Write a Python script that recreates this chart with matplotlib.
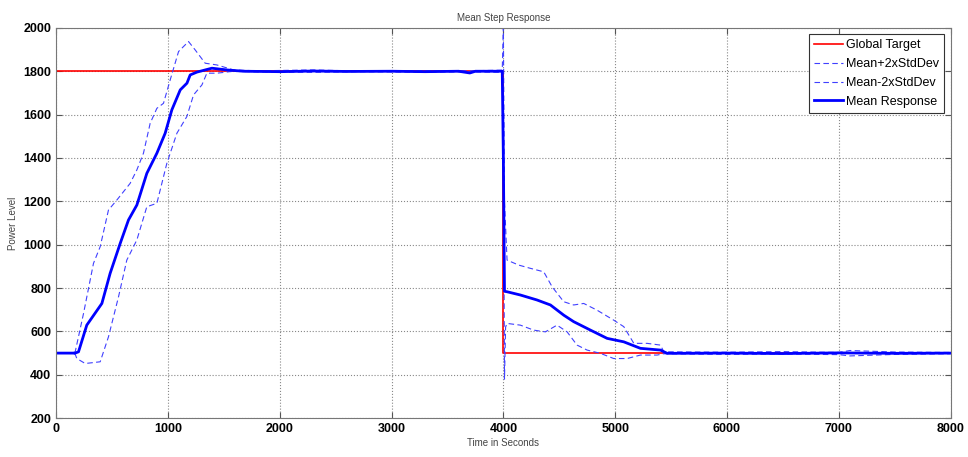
import matplotlib
matplotlib.use('Agg')
import matplotlib.pyplot as plt

plt.rcParams['font.family'] = ['Liberation Sans', 'DejaVu Sans']

# global target
target_t = [0, 4000, 4000, 8000]
target_v = [1800, 1800, 500, 500]

# mean response
mean_t = [0, 100, 170, 200, 274, 409, 483, 573, 647, 722, 811, 901, 975, 1035,
          1110, 1170, 1199, 1259, 1393, 1527, 1676, 2000, 2300, 2600, 3000,
          3300, 3600, 3700, 3750, 3990, 4000, 4010, 4033, 4152, 4301, 4421,
          4540, 4629, 4779, 4928, 5077, 5226, 5405, 5465, 6000, 6500, 7000,
          7500, 8000]
mean_v = [500, 500, 500, 506, 629, 729, 868, 1006, 1114, 1183, 1329, 1422,
          1514, 1622, 1714, 1745, 1783, 1796, 1814, 1806, 1800, 1798, 1801,
          1799, 1800, 1798, 1800, 1792, 1800, 1800, 1400, 785, 783, 768, 745,
          722, 675, 645, 606, 568, 552, 522, 514, 499, 500, 498, 501, 499, 500]

# mean + 2 std dev
upper_t = [0, 100, 170, 245, 334, 394, 468, 543, 662, 722, 781, 841, 901, 960,
           1020, 1095, 1184, 1244, 1333, 1438, 1587, 1800, 2300, 2700, 3200,
           3700, 3990, 4000, 4010, 4033, 4137, 4242, 4361, 4436, 4540, 4629,
           4719, 4838, 4987, 5077, 5167, 5286, 5405, 5435, 6000, 6500, 7000,
           7100, 7500, 8000]
upper_v = [500, 500, 505, 683, 914, 991, 1160, 1206, 1283, 1345, 1422, 1560,
           1629, 1652, 1760, 1891, 1937, 1898, 1837, 1829, 1806, 1802, 1806,
           1801, 1803, 1802, 1805, 2000, 1200, 929, 906, 891, 875, 806, 737,
           722, 729, 698, 652, 622, 545, 545, 537, 506, 504, 507, 503, 512,
           505, 503]

# mean - 2 std dev
lower_t = [0, 100, 170, 185, 260, 394, 468, 558, 632, 722, 811, 901, 990,
           1080, 1169, 1229, 1304, 1348, 1438, 1587, 1800, 2300, 2700, 3200,
           3700, 3990, 4000, 4010, 4020, 4033, 4152, 4271, 4376, 4480, 4570,
           4659, 4749, 4868, 4987, 5107, 5226, 5375, 5435, 6000, 6500, 7000,
           7100, 7500, 8000]
lower_v = [500, 500, 495, 475, 452, 460, 575, 760, 929, 1022, 1175, 1191,
           1375, 1514, 1591, 1691, 1737, 1791, 1791, 1800, 1797, 1795, 1798,
           1796, 1797, 1795, 1600, 380, 620, 637, 629, 606, 598, 629, 598,
           537, 514, 499, 475, 475, 491, 491, 497, 494, 496, 493, 487, 494, 497]

fig = plt.figure(figsize=(9.68, 4.57), dpi=100)
ax = fig.add_axes([0.058, 0.085, 0.924, 0.854])

ax.plot(target_t, target_v, color='#ff0000', lw=1.2, label='Global Target')
ax.plot(upper_t, upper_v, color='#4040ff', lw=0.8, ls=(0, (5, 3)),
        label='Mean+2xStdDev')
ax.plot(lower_t, lower_v, color='#4040ff', lw=0.8, ls=(0, (5, 3)),
        label='Mean-2xStdDev')
ax.plot(mean_t, mean_v, color='#0000ff', lw=2.0, label='Mean Response')

ax.set_xlim(0, 8000)
ax.set_ylim(200, 2000)
ax.set_xticks(range(0, 8001, 1000))
ax.set_yticks(range(200, 2001, 200))
ax.grid(True, ls=':', color='#888888', lw=0.8)
ax.tick_params(direction='in', length=4, top=True, right=True,
               labelsize=9, color='#555555')
for lbl in ax.get_xticklabels() + ax.get_yticklabels():
    lbl.set_fontweight('bold')
for s in ax.spines.values():
    s.set_color('#777777')

ax.set_title('Mean Step Response', fontsize=7, color='#444444', pad=5)
ax.set_xlabel('Time in Seconds', fontsize=7, color='#444444', labelpad=2)
ax.set_ylabel('Power Level', fontsize=7, color='#444444', labelpad=4)

leg = ax.legend(loc='upper right', fontsize=9, fancybox=False,
                edgecolor='#333333', framealpha=1, handlelength=2.3,
                borderaxespad=0.5, labelspacing=0.55, handletextpad=0.3)
leg.get_frame().set_linewidth(0.8)

fig.savefig('out.png', dpi=100)
